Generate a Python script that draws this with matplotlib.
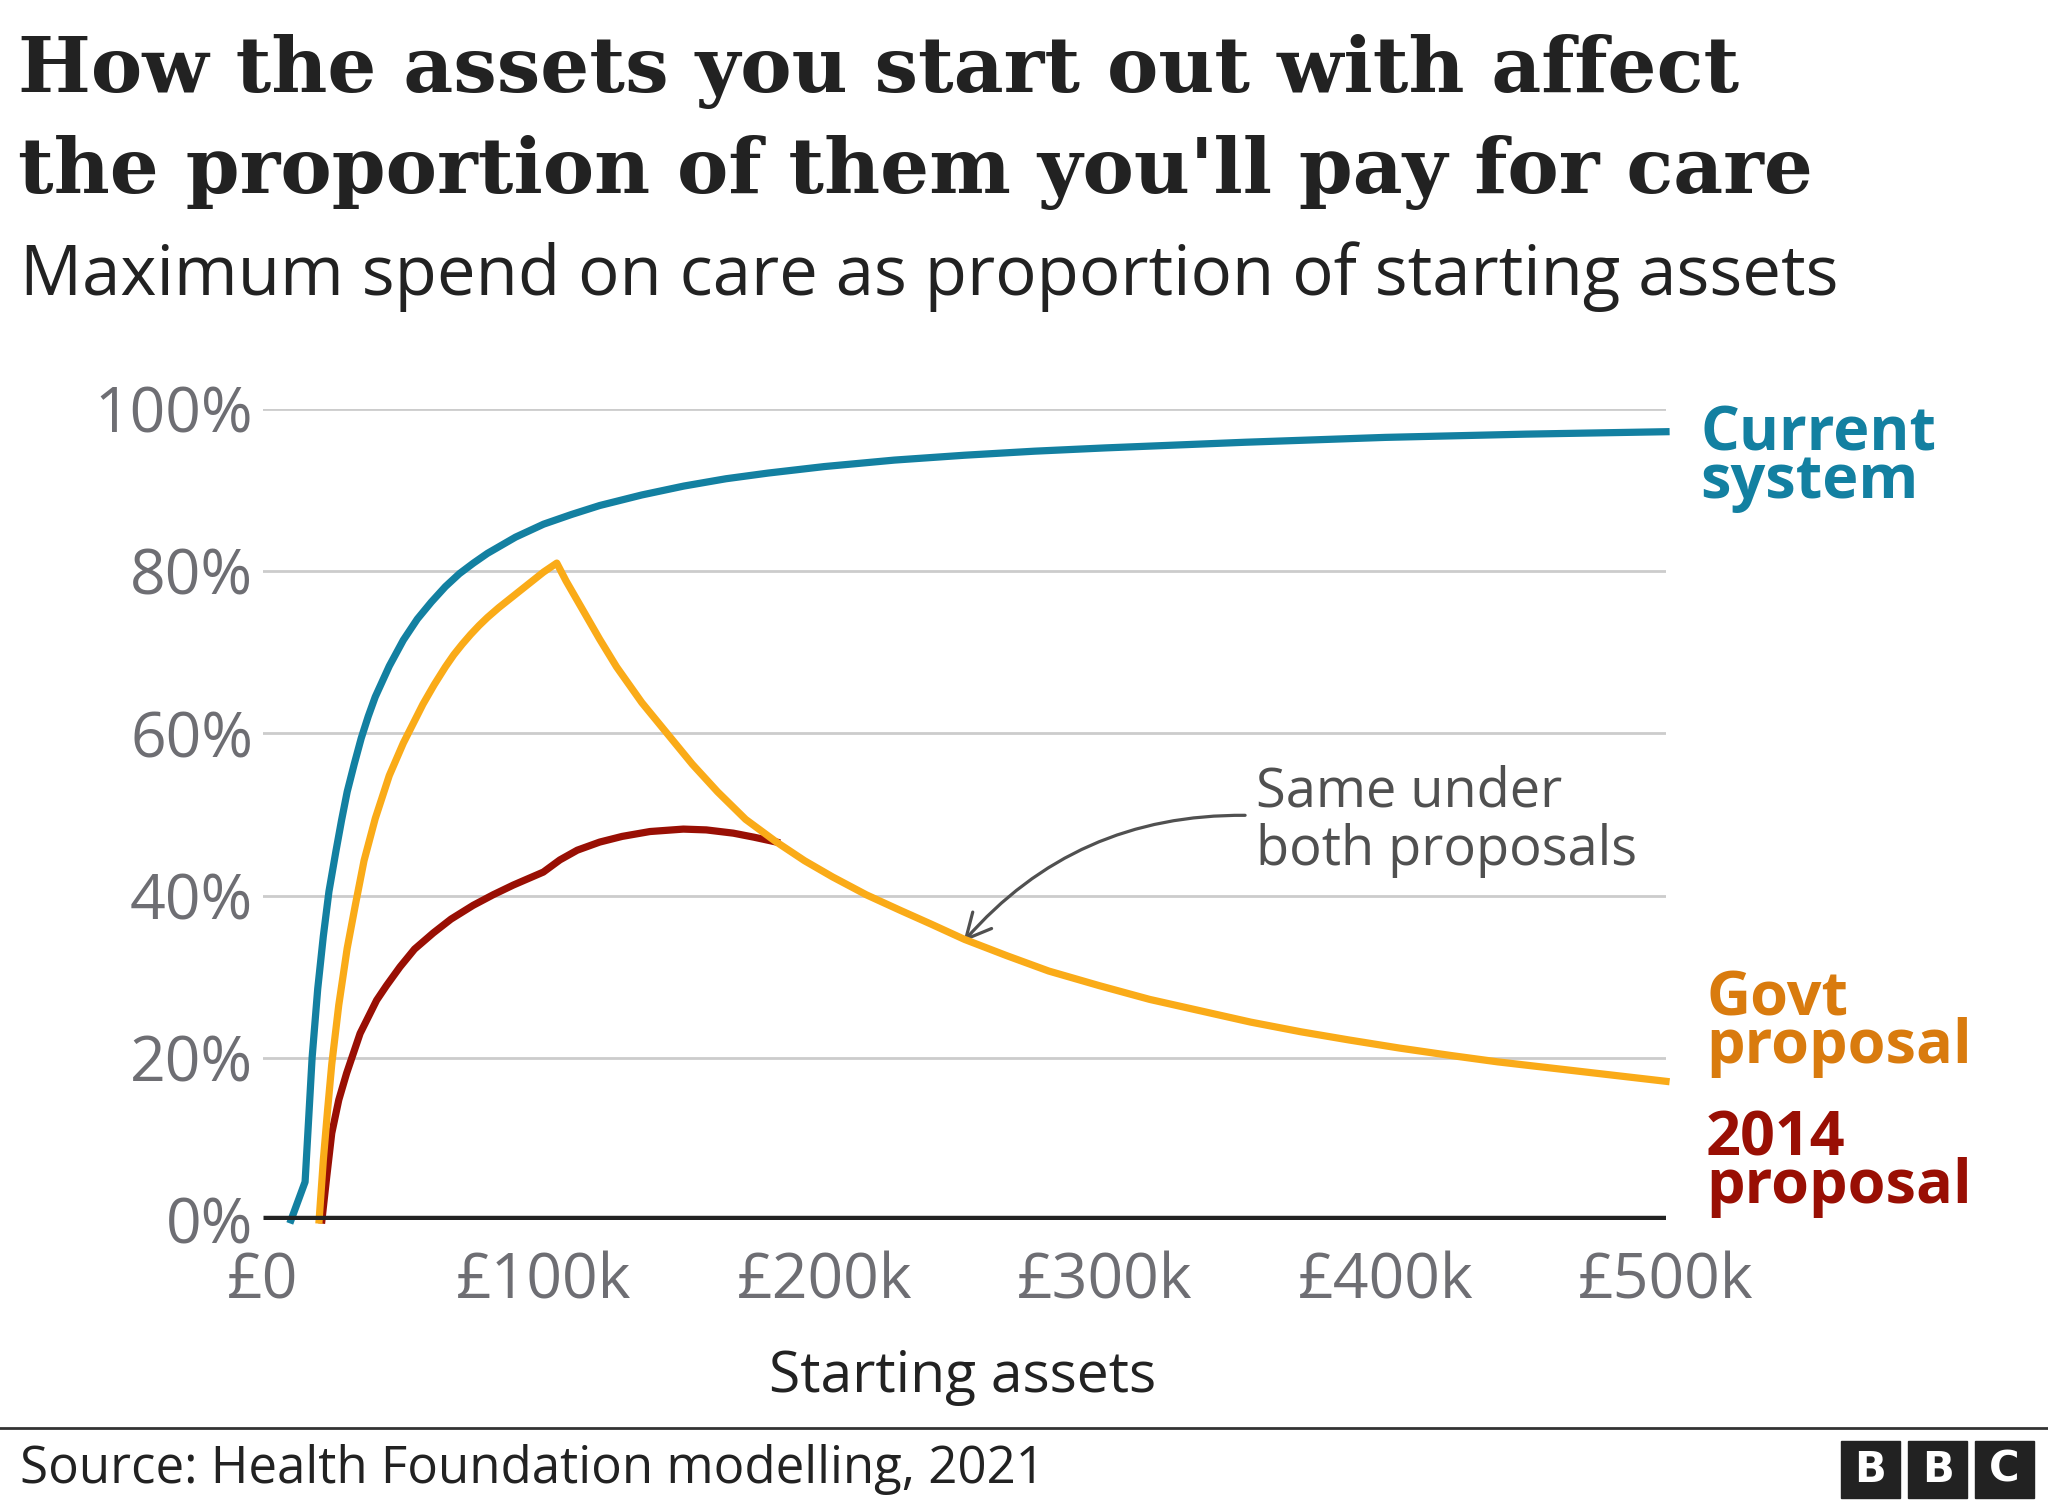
import matplotlib
matplotlib.use('Agg')
import matplotlib.pyplot as plt
from matplotlib.patches import Rectangle

# values (assets in £k, spend as % of starting assets)
current_assets = [10, 15, 17.5, 19.5, 21.5, 23.5, 26, 28, 30, 32.5, 35, 37.5, 40, 45, 50, 55, 60,
                  65, 70, 75, 80, 90, 100, 110, 120, 135, 150, 165, 180, 200, 225, 250, 275, 300,
                  350, 400, 450, 500]
current_pct = [0, 4.7, 20, 28.5, 35, 40.5, 45.5, 49.3, 52.8, 56.2, 59.4, 62.1, 64.5, 68.3, 71.5,
               74.1, 76.2, 78.1, 79.7, 81.0, 82.2, 84.2, 85.8, 87.0, 88.1, 89.4, 90.5, 91.4,
               92.1, 92.9, 93.7, 94.3, 94.8, 95.2, 95.9, 96.5, 96.9, 97.2]

govt_assets = [20, 21.5, 23, 24.5, 27, 30, 33, 36, 40, 45, 50, 57, 61, 65, 68, 71, 74, 77, 80, 84,
               88, 92, 96, 100, 104.7, 108, 114, 120, 126, 135, 144, 153, 162, 172, 183, 193,
               203, 215, 227, 238, 250, 265, 280, 298, 316, 334, 352, 370, 387, 405, 423, 440,
               460, 480, 500]
govt_pct = [0, 7.4, 13.5, 19.2, 26.5, 33.5, 39, 44.3, 49.5, 54.8, 58.8, 63.6, 66.0, 68.2, 69.7,
            71.0, 72.2, 73.3, 74.3, 75.5, 76.6, 77.7, 78.8, 79.9, 81, 78.8, 75.2, 71.6, 68.2,
            63.8, 60, 56.2, 52.8, 49.4, 46.6, 44.3, 42.3, 40.1, 38.2, 36.5, 34.6, 32.6, 30.7,
            28.9, 27.2, 25.8, 24.4, 23.2, 22.2, 21.2, 20.3, 19.5, 18.7, 17.9, 17.1]

old_assets = [21, 22.7, 24.5, 27, 29.8, 34.6, 40.5, 44, 48.8, 54, 60.7, 67, 74.9, 82, 89.2, 99.9,
              105.8, 112, 120, 128, 137.9, 149.8, 158, 167.6, 175, 183]
old_pct = [0, 5.3, 10.7, 14.8, 18.1, 23, 27.1, 28.9, 31.2, 33.4, 35.4, 37.1, 38.8, 40.1, 41.3,
           42.9, 44.4, 45.6, 46.6, 47.3, 47.9, 48.2, 48.1, 47.7, 47.2, 46.6]

y_ticks = [0, 20, 40, 60, 80, 100]
y_labels = ['0%', '20%', '40%', '60%', '80%', '100%']
x_ticks = [0, 100, 200, 300, 400, 500]
x_labels = ['£0', '£100k', '£200k', '£300k', '£400k', '£500k']

BLUE = '#1380A1'
ORANGE = '#FAAB18'
RED = '#990F04'

plt.rcParams['font.family'] = ['Open Sans', 'DejaVu Sans']

W, H = 2048, 1504
fig = plt.figure(figsize=(W / 100, H / 100), dpi=100)
ax = fig.add_axes([263 / W, 1 - 1220 / H, (1666 - 263) / W, (1220 - 409) / H])
ax.set_xlim(0, 500)
ax.set_ylim(0, 100)
for s in ax.spines.values():
    s.set_visible(False)

ax.set_yticks(y_ticks, y_labels)
ax.set_xticks(x_ticks, x_labels)
ax.tick_params(length=0, labelsize=45, labelcolor='#6E6E73')
ax.tick_params(axis='y', pad=7)
ax.tick_params(axis='x', pad=22)

for v in y_ticks[1:]:
    ax.axhline(v, color='#CCCCCC', lw=2, zorder=1)
ax.axhline(0, color='#222222', lw=6.8, zorder=6, solid_capstyle='butt')

ax.plot(old_assets, old_pct, color=RED, lw=5.2, zorder=3, clip_on=False)
ax.plot(govt_assets, govt_pct, color=ORANGE, lw=5.2, zorder=4, clip_on=False)
ax.plot(current_assets, current_pct, color=BLUE, lw=5.2, zorder=5, clip_on=False)

ax.annotate('', xy=(249.6, 34.3), xytext=(350, 49.9),
            arrowprops=dict(arrowstyle='->', color='#505050', lw=2.3,
                            connectionstyle='arc3,rad=0.23', mutation_scale=45,
                            shrinkA=0, shrinkB=0))


def ftext(px, py, s, **kw):
    return fig.text(px / W, 1 - py / H, s, va='baseline', **kw)


def fit_width(t, target):
    r = fig.canvas.get_renderer()
    w = t.get_window_extent(r).width
    t.set_fontsize(t.get_fontsize() * target / w)


# titles
t1 = ftext(18, 92, 'How the assets you start out with affect', family=['DejaVu Serif'],
           weight='bold', size=60, color='#222222')
t2 = ftext(18, 193, "the proportion of them you'll pay for care", family=['DejaVu Serif'],
           weight='bold', size=60, color='#222222')
fit_width(t2, 1795)
t1.set_fontsize(t2.get_fontsize())

sub = ftext(20, 295, 'Maximum spend on care as proportion of starting assets', size=48,
            color='#222222')
fit_width(sub, 1819)

# annotation text (baseline of the last line given)
ftext(1256, 865, 'Same under\nboth proposals', size=39, color='#505050', linespacing=1.08)

# series labels, tight two-line blocks
ftext(1700, 498, 'Current\nsystem', size=44, weight='bold', color=BLUE, linespacing=0.7)
ftext(1706, 1063, 'Govt\nproposal', size=44, weight='bold', color='#D97B0E', linespacing=0.7)
ftext(1706, 1203, '2014\nproposal', size=44, weight='bold', color=RED, linespacing=0.7)

# x axis title
fig.text(963 / W, 1 - 1392 / H, 'Starting assets', size=41, color='#222222',
         ha='center', va='baseline')

# footer
fig.add_artist(plt.Line2D([0, 1], [1 - 1428 / H, 1 - 1428 / H], color='#333333', lw=2,
                          transform=fig.transFigure))
src = ftext(20, 1483, 'Source: Health Foundation modelling, 2021', size=35, color='#222222')
fit_width(src, 1025)

for i, letter in enumerate(['B', 'B', 'C']):
    x0 = 1841 + i * 67
    fig.add_artist(Rectangle((x0 / W, 1 - 1498 / H), 59 / W, 57 / H, color='#222222',
                             transform=fig.transFigure))
    fig.text((x0 + 29.5) / W, 1 - 1469.5 / H, letter, color='white', size=30,
             weight='bold', family=['DejaVu Sans'], ha='center', va='center')

fig.savefig('out.png', dpi=100, facecolor='white')
